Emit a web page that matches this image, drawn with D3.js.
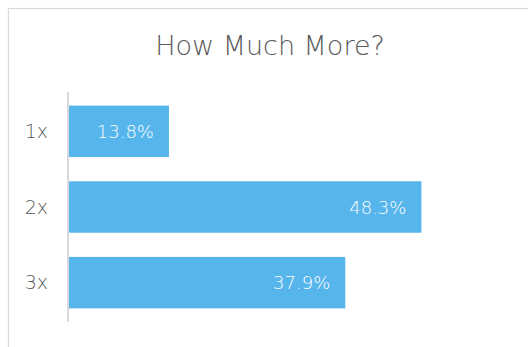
<!DOCTYPE html>
<html>
<head>
<meta charset="utf-8">
<script src="https://cdn.jsdelivr.net/npm/d3@7"></script>
<style>
  html, body { margin: 0; padding: 0; background: #ffffff; }
  svg { display: block; }
  text { font-family: "Century Gothic", "DejaVu Sans", sans-serif; font-weight: 200; }
</style>
</head>
<body>
<svg id="chart" width="528" height="347"></svg>
<script>
// Chart content
const title = "How Much More?";
const categories = ["1x", "2x", "3x"];
const shares = [13.8, 48.3, 37.9];
const valueDomain = [0, 60];

const W = 528, H = 347;
const svg = d3.select("#chart");

// Outer chart frame (extends past the right and bottom edges)
svg.append("rect")
  .attr("x", 8.5).attr("y", 8.5)
  .attr("width", W + 20).attr("height", H + 20)
  .attr("fill", "#ffffff")
  .attr("stroke", "#d9d9d9")
  .attr("stroke-width", 1.2);

const plot = { left: 68, right: 507, top: 92, bottom: 322 };

const x = d3.scaleLinear().domain(valueDomain).range([plot.left, plot.right]);
const y = d3.scaleBand().domain(categories).range([plot.top, plot.bottom])
  .paddingInner(0.32).paddingOuter(0.18);

// Title
svg.append("text")
  .attr("x", 270).attr("y", 55)
  .attr("text-anchor", "middle")
  .attr("fill", "#595959")
  .style("font-size", "27px")
  .text(title);

// Bars
svg.append("g").selectAll("rect")
  .data(categories.map((c, i) => ({ c, v: shares[i] })))
  .join("rect")
  .attr("x", x(0))
  .attr("y", d => y(d.c))
  .attr("width", d => x(d.v) - x(0))
  .attr("height", y.bandwidth())
  .attr("fill", "#56b5eb");

// Value labels inside the bar ends
svg.append("g").selectAll("text")
  .data(categories.map((c, i) => ({ c, v: shares[i] })))
  .join("text")
  .attr("x", d => x(d.v) - 15)
  .attr("y", d => y(d.c) + y.bandwidth() / 2 + 6.5)
  .attr("text-anchor", "end")
  .attr("fill", "#ffffff")
  .style("font-size", "18px")
  .text(d => d.v.toFixed(1) + "%");

// Category axis
const yAxis = d3.axisLeft(y).tickSize(0).tickPadding(20);
const ga = svg.append("g")
  .attr("transform", `translate(${plot.left},0)`)
  .call(yAxis);
ga.select(".domain").attr("stroke", "#d9d9d9").attr("stroke-width", 2)
  .attr("d", `M0,${plot.top}V${plot.bottom}`);
ga.selectAll(".tick text")
  .attr("fill", "#595959")
  .attr("dy", null)
  .attr("y", 6.5)
  .style("font-size", "19px")
  .style("font-family", null);
</script>
</body>
</html>
